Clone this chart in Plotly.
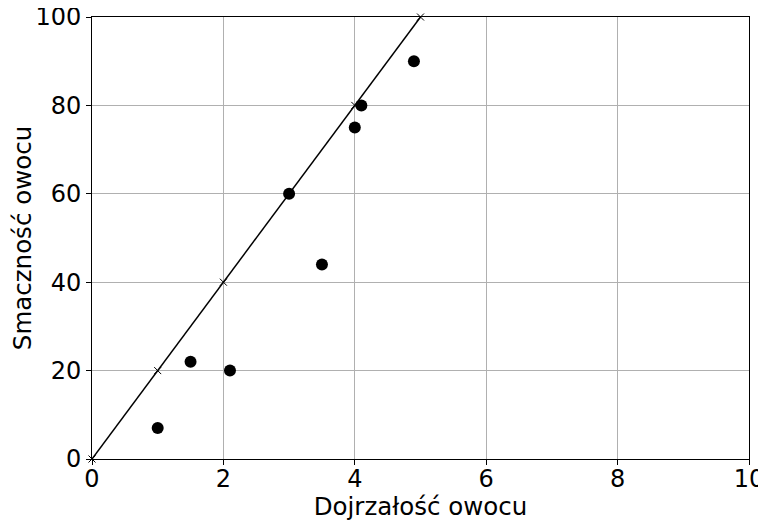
import plotly.graph_objects as go

pts_x = [1, 1.5, 2.1, 3, 3.5, 4, 4.1, 4.9]
pts_y = [7, 22, 20, 60, 44, 75, 80, 90]
line_x = [0, 1, 2, 3, 4, 5]
line_y = [0, 20, 40, 60, 80, 100]
x_ticks = [0, 2, 4, 6, 8, 10]
y_ticks = [0, 20, 40, 60, 80, 100]

fig = go.Figure()
fig.add_trace(go.Scatter(x=pts_x, y=pts_y, mode="markers",
                         marker=dict(color="black", size=12), cliponaxis=False))
fig.add_trace(go.Scatter(x=line_x, y=line_y, mode="lines+markers",
                         line=dict(color="black", width=1.5),
                         marker=dict(symbol="x-thin", size=7,
                                     line=dict(color="black", width=1)),
                         cliponaxis=False))

axis_common = dict(showline=True, linecolor="black", linewidth=1, mirror=True,
                   ticks="outside", ticklen=5, tickcolor="black",
                   showgrid=True, gridcolor="#b0b0b0", gridwidth=1,
                   zeroline=False, automargin=False, ticklabeloverflow="allow",
                   tickfont=dict(family="DejaVu Sans", size=24, color="black"),
                   title_font=dict(family="DejaVu Sans", size=24.5, color="black"))

# page body has an 8px default margin, so size the figure to fit the 766x521 window
fig.update_layout(
    width=758, height=513,
    margin=dict(l=84, r=17, t=9, b=62),
    plot_bgcolor="white", paper_bgcolor="white",
    showlegend=False,
    xaxis=dict(range=[0, 10], tickvals=x_ticks, ticklabelstandoff=-7,
               title=dict(text="Dojrzałość owocu", standoff=8),
               **axis_common),
    yaxis=dict(range=[0, 100], tickvals=y_ticks,
               title=dict(text="Smaczność owocu"),
               **axis_common),
)
fig.write_html("out.html")
